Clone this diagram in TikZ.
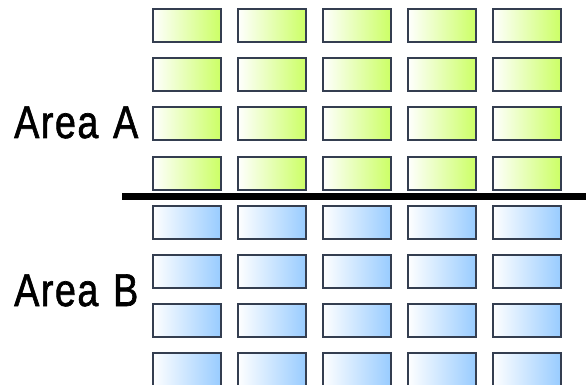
\documentclass[tikz,border=0pt]{standalone}
\usepackage{fontspec}
\setmainfont{Liberation Sans}
\newfontfamily\lblfont[FakeBold=1.5,LetterSpace=4]{Liberation Sans}
\definecolor{boxedge}{HTML}{343E50}
\definecolor{greenend}{HTML}{CCFF66}
\definecolor{blueend}{HTML}{99CCFF}
\begin{document}
\begin{tikzpicture}[x=1pt,y=-1pt,
  seat/.style={draw=boxedge,line width=2pt,minimum width=68pt,minimum height=33pt,inner sep=0pt,anchor=north west},
  seatA/.style={seat,left color=white,right color=greenend},
  seatB/.style={seat,left color=white,right color=blueend},
  lbl/.style={font=\lblfont\fontsize{46}{46}\selectfont,inner sep=0pt,anchor=base west}]
\useasboundingbox (0,0) rectangle (586,385);
\foreach \c in {0,...,4}{
  \foreach \r in {0,...,3}{
    \node[seatA] (a\r\c) at ({151.5+85*\c},{8.5+49*\r}) {};
    \node[seatB] (b\r\c) at ({151.5+85*\c},{204.5+49*\r}) {};
  }
}
\node[lbl] (la) at (14,138) {\scalebox{0.82}[1]{Area\hspace{18pt}A}};
\node[lbl] (lb) at (14,306) {\scalebox{0.82}[1]{Area\hspace{18pt}B}};
\coordinate (d1) at (122,196.5);
\coordinate (d2) at (586,196.5);
\draw[line width=7pt] (d1) -- (d2);
\end{tikzpicture}
\end{document}
